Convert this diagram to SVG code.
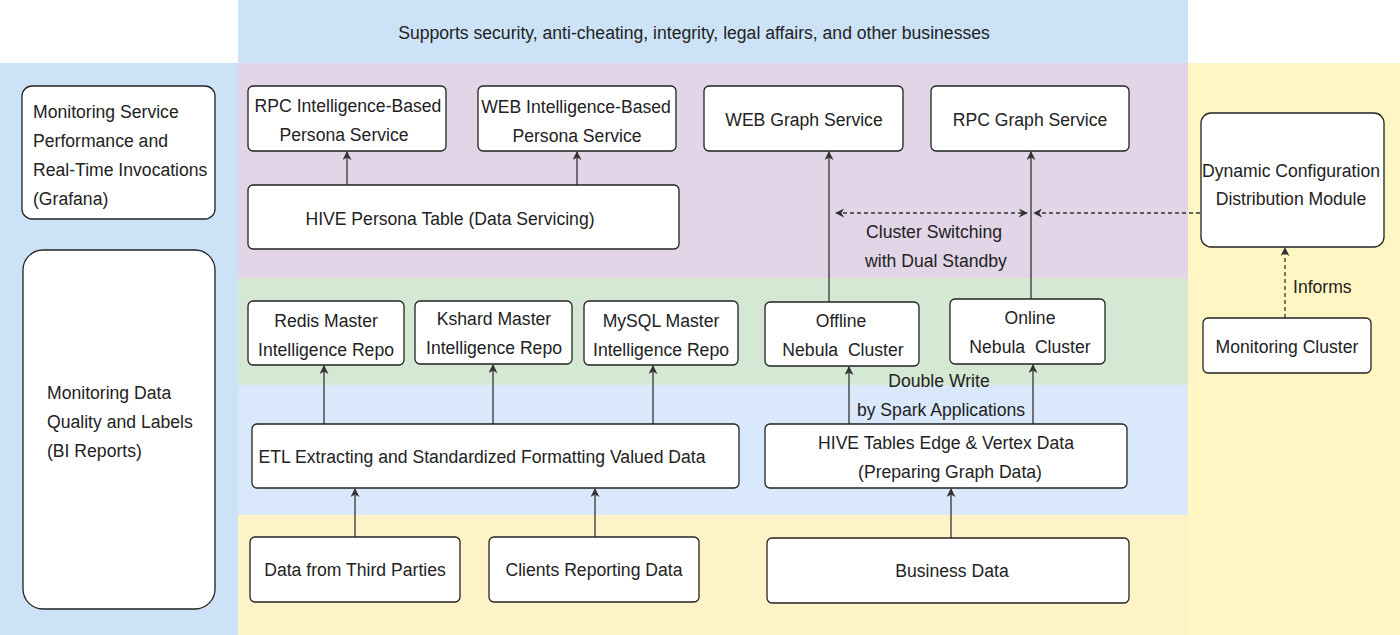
<svg xmlns="http://www.w3.org/2000/svg" width="1400" height="635" viewBox="0 0 1400 635">
<style>
.node rect{fill:#fff;stroke:#222;stroke-width:1.3}
text{font-family:"Liberation Sans",Arial,sans-serif;font-size:17.6px;fill:#222}
.c{text-anchor:middle}
.pre{white-space:pre}
.edge{stroke:#333;stroke-width:1.3;fill:none}
.dash{stroke-dasharray:4 3}
</style>
<defs>
<marker id="arr" viewBox="0 0 10 10" refX="9" refY="5" markerWidth="9" markerHeight="9" orient="auto-start-reverse" markerUnits="userSpaceOnUse">
<path d="M0,0 L10,5 L0,10 L3,5 Z" fill="#333"/>
</marker>
</defs>
<rect width="1400" height="635" fill="#fff"/>
<g id="bands">
<rect x="238" y="0" width="950" height="63" fill="#cce3f7"/>
<rect x="0" y="63" width="238" height="572" fill="#cce3f7"/>
<rect x="238" y="63" width="950" height="215" fill="#e1d5e7"/>
<rect x="238" y="278" width="950" height="107" fill="#d5e8d4"/>
<rect x="238" y="385" width="950" height="130" fill="#dae8fc"/>
<rect x="238" y="515" width="950" height="120" fill="#fdf3c6"/>
<rect x="1188" y="63" width="212" height="572" fill="#fff6c3"/>
<text class="c" x="694" y="39">Supports security, anti-cheating, integrity, legal affairs, and other businesses</text>
</g>
<g id="connectors">
<line class="edge" x1="347" y1="185" x2="347" y2="152" marker-end="url(#arr)"/>
<line class="edge" x1="577" y1="185" x2="577" y2="152" marker-end="url(#arr)"/>
<line class="edge" x1="829" y1="302" x2="829" y2="152" marker-end="url(#arr)"/>
<line class="edge" x1="1031" y1="299" x2="1031" y2="152" marker-end="url(#arr)"/>
<line class="edge dash" x1="836" y1="213" x2="1027" y2="213" marker-start="url(#arr)" marker-end="url(#arr)"/>
<line class="edge dash" x1="1200" y1="213" x2="1034" y2="213" marker-end="url(#arr)"/>
<line class="edge dash" x1="1285" y1="318" x2="1285" y2="248" marker-end="url(#arr)"/>
<line class="edge" x1="324" y1="424" x2="324" y2="366" marker-end="url(#arr)"/>
<line class="edge" x1="493" y1="424" x2="493" y2="365" marker-end="url(#arr)"/>
<line class="edge" x1="653" y1="424" x2="653" y2="366" marker-end="url(#arr)"/>
<line class="edge" x1="355" y1="537" x2="355" y2="489" marker-end="url(#arr)"/>
<line class="edge" x1="595" y1="537" x2="595" y2="489" marker-end="url(#arr)"/>
<line class="edge" x1="849" y1="424" x2="849" y2="367" marker-end="url(#arr)"/>
<line class="edge" x1="1033" y1="424" x2="1033" y2="365" marker-end="url(#arr)"/>
<line class="edge" x1="951" y1="538" x2="951" y2="489" marker-end="url(#arr)"/>
<text class="c" x="934" y="238">Cluster Switching</text>
<text class="c" x="936" y="267">with Dual Standby</text>
<text class="c" x="939" y="387">Double Write</text>
<text class="c" x="941" y="416">by Spark Applications</text>
<text x="1293" y="293">Informs</text>
</g>
<g id="mon-service" class="node"><rect x="22" y="86" width="193" height="133" rx="10"/>
<text x="33" y="118">Monitoring Service</text><text x="33" y="147">Performance and</text><text x="33" y="176">Real-Time Invocations</text><text x="33" y="205">(Grafana)</text></g>
<g id="mon-data" class="node"><rect x="23" y="250" width="192" height="359" rx="20"/>
<text x="47" y="399">Monitoring Data</text><text x="47" y="428">Quality and Labels</text><text x="47" y="457">(BI Reports)</text></g>
<g id="rpc-persona" class="node"><rect x="248" y="86" width="198" height="65" rx="5"/>
<text class="c" x="348" y="112">RPC Intelligence-Based</text><text class="c" x="344" y="141">Persona Service</text></g>
<g id="web-persona" class="node"><rect x="478" y="86" width="198" height="65" rx="5"/>
<text class="c" x="576" y="113">WEB Intelligence-Based</text><text class="c" x="577" y="142">Persona Service</text></g>
<g id="hive-persona" class="node"><rect x="248" y="185" width="431" height="64" rx="5"/>
<text class="c" x="450" y="225">HIVE Persona Table (Data Servicing)</text></g>
<g id="web-graph" class="node"><rect x="704" y="86" width="199" height="65" rx="5"/>
<text class="c" x="804" y="126">WEB Graph Service</text></g>
<g id="rpc-graph" class="node"><rect x="931" y="86" width="198" height="65" rx="5"/>
<text class="c" x="1030" y="126">RPC Graph Service</text></g>
<g id="dyn-config" class="node"><rect x="1201" y="113" width="183" height="134" rx="10"/>
<text class="c" x="1291" y="177">Dynamic Configuration</text><text class="c" x="1291" y="205">Distribution Module</text></g>
<g id="mon-cluster" class="node"><rect x="1203" y="318" width="168" height="55" rx="5"/>
<text class="c" x="1287" y="353">Monitoring Cluster</text></g>
<g id="redis" class="node"><rect x="248" y="301" width="156" height="64" rx="5"/>
<text class="c" x="326" y="327">Redis Master</text><text class="c" x="326" y="356">Intelligence Repo</text></g>
<g id="kshard" class="node"><rect x="415" y="301" width="157" height="63" rx="5"/>
<text class="c" x="494" y="325">Kshard Master</text><text class="c" x="494" y="354">Intelligence Repo</text></g>
<g id="mysql" class="node"><rect x="584" y="301" width="154" height="64" rx="5"/>
<text class="c" x="661" y="327">MySQL Master</text><text class="c" x="661" y="356">Intelligence Repo</text></g>
<g id="offline" class="node"><rect x="765" y="302" width="154" height="64" rx="5"/>
<text class="c" x="841" y="327">Offline</text><text class="c pre" x="843" y="356">Nebula  Cluster</text></g>
<g id="online" class="node"><rect x="950" y="299" width="155" height="65" rx="5"/>
<text class="c" x="1030" y="324">Online</text><text class="c pre" x="1030" y="353">Nebula  Cluster</text></g>
<g id="etl" class="node"><rect x="252" y="424" width="487" height="64" rx="5"/>
<text class="c" x="482" y="463">ETL Extracting and Standardized Formatting Valued Data</text></g>
<g id="hive-tables" class="node"><rect x="765" y="424" width="362" height="64" rx="5"/>
<text class="c" x="946" y="449">HIVE Tables Edge &amp; Vertex Data</text><text class="c" x="950" y="478">(Preparing Graph Data)</text></g>
<g id="third-parties" class="node"><rect x="250" y="537" width="210" height="65" rx="5"/>
<text class="c" x="355" y="576">Data from Third Parties</text></g>
<g id="clients" class="node"><rect x="489" y="537" width="210" height="65" rx="5"/>
<text class="c" x="594" y="576">Clients Reporting Data</text></g>
<g id="business" class="node"><rect x="767" y="538" width="362" height="65" rx="5"/>
<text class="c" x="952" y="577">Business Data</text></g>
</svg>
